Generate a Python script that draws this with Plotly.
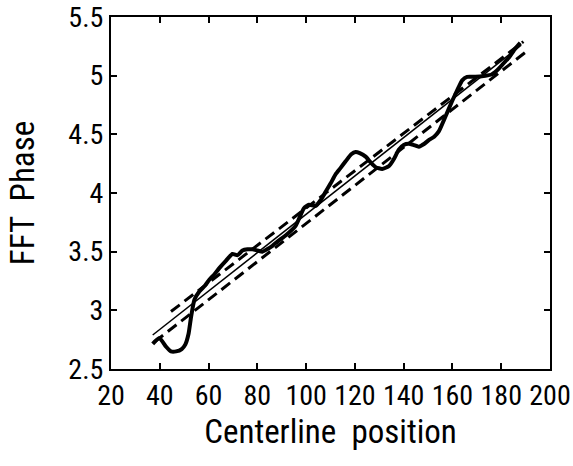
import plotly.graph_objects as go

# Measured phase curve
pos = [37.1, 39.8, 42.6, 44.6, 46.7, 49.0, 50.5, 51.8, 52.8, 54.2, 56.2, 58.5, 60.3, 62.5,
       64.4, 67.0, 69.8, 71.9, 73.9, 76.0, 78.0, 80.0, 82.1, 84.0, 86.2, 88.5, 91.7, 95.7,
       97.5, 99.1, 101.2, 103.9, 106.0, 108.0, 110.0, 112.1, 114.0, 116.2, 118.5, 120.3,
       122.0, 124.4, 126.5, 128.5, 131.2, 134.0, 136.0, 138.0, 140.0, 142.1, 144.0, 146.2,
       148.5, 150.3, 152.5, 154.4, 157.1, 159.8, 162.5, 164.0, 166.0, 169.4, 173.5, 176.0,
       177.5, 179.0, 181.6, 183.0, 185.7, 187.8]
phase = [2.715, 2.765, 2.69, 2.65, 2.65, 2.67, 2.71, 2.80, 2.94, 3.09, 3.16, 3.21, 3.26, 3.31,
         3.36, 3.42, 3.48, 3.47, 3.51, 3.52, 3.52, 3.51, 3.50, 3.52, 3.55, 3.59, 3.64, 3.72,
         3.80, 3.87, 3.90, 3.89, 3.94, 4.01, 4.08, 4.16, 4.21, 4.27, 4.33, 4.35,
         4.34, 4.31, 4.26, 4.22, 4.205, 4.23, 4.29, 4.37, 4.41, 4.42, 4.41, 4.395,
         4.42, 4.45, 4.48, 4.525, 4.65, 4.78, 4.90, 4.96, 4.99, 4.99, 5.00, 5.01,
         5.03, 5.06, 5.12, 5.15, 5.23, 5.28]

# Linear fit and bounds
fit_x = [37.1, 188.2]
fit_y = [2.79, 5.26]
upper_x = [44.6, 189.1]
upper_y = [2.99, 5.29]
lower_x = [37.8, 191.2]
lower_y = [2.73, 5.22]

x_ticks = [20, 40, 60, 80, 100, 120, 140, 160, 180, 200]
y_ticks = [2.5, 3, 3.5, 4, 4.5, 5, 5.5]

FONT = "Liberation Sans Narrow, Arial Narrow, Roboto Condensed, Liberation Sans, sans-serif"

fig = go.Figure()
fig.add_trace(go.Scatter(x=upper_x, y=upper_y, mode="lines",
                         line=dict(color="black", width=3, dash="11px,6px")))
fig.add_trace(go.Scatter(x=lower_x, y=lower_y, mode="lines",
                         line=dict(color="black", width=3, dash="11px,6px")))
fig.add_trace(go.Scatter(x=fit_x, y=fit_y, mode="lines",
                         line=dict(color="black", width=1.5)))
fig.add_trace(go.Scatter(x=pos, y=phase, mode="lines",
                         line=dict(color="black", width=4, shape="spline", smoothing=0.5)))

axis_common = dict(showgrid=False, zeroline=False, showline=True, linecolor="black",
                   linewidth=2, mirror="ticks", ticks="inside", ticklen=6, tickwidth=2,
                   tickcolor="black", ticklabeloverflow="allow", automargin=False,
                   tickangle=0,
                   tickfont=dict(family=FONT, size=28, color="black"))

fig.update_layout(
    width=573, height=466,
    margin=dict(l=111, r=23, t=17, b=97),
    paper_bgcolor="white", plot_bgcolor="white",
    showlegend=False,
    xaxis=dict(range=[20, 200], tickvals=x_ticks, ticktext=[str(v) for v in x_ticks],
               title=dict(text="Centerline  position", font=dict(family=FONT, size=33, color="black"),
                          standoff=8),
               **axis_common),
    yaxis=dict(range=[2.5, 5.5], tickvals=y_ticks, ticktext=[f"{v:g}" for v in y_ticks],
               title=dict(text="FFT  Phase", font=dict(family=FONT, size=33, color="black"),
                          standoff=24),
               **axis_common),
)

fig.write_html("out.html")
